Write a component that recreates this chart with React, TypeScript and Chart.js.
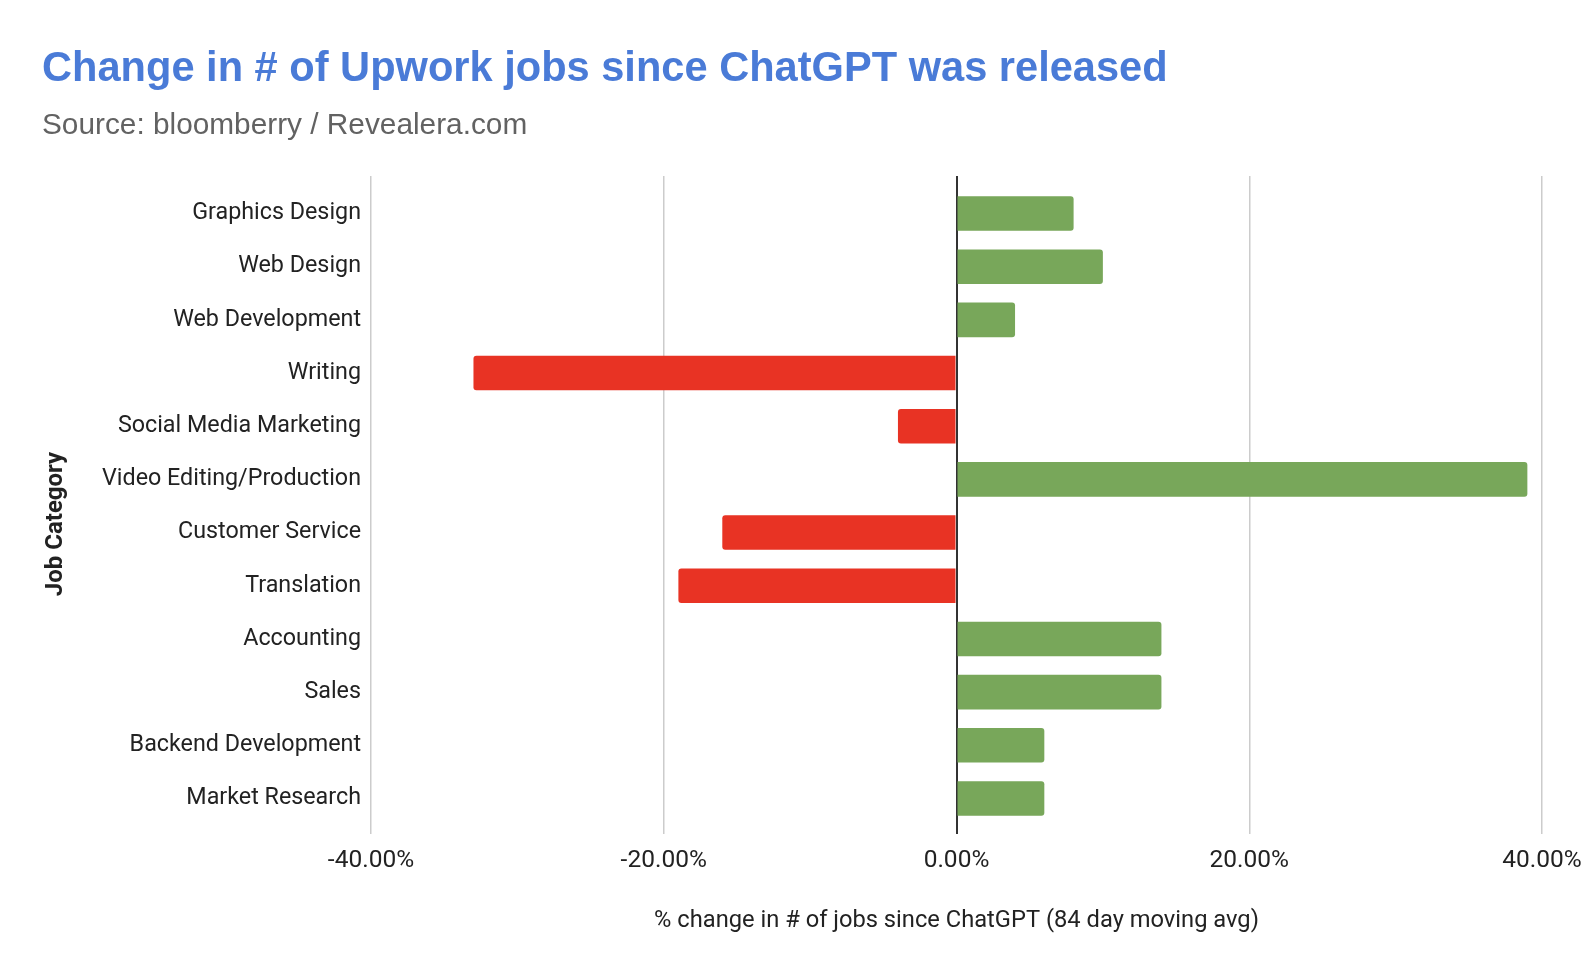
import { useEffect, useRef } from "react";
import { Chart, registerables, ChartConfiguration, Plugin } from "chart.js";

Chart.register(...registerables);

const Categories: string[] = [
  "Graphics Design",
  "Web Design",
  "Web Development",
  "Writing",
  "Social Media Marketing",
  "Video Editing/Production",
  "Customer Service",
  "Translation",
  "Accounting",
  "Sales",
  "Backend Development",
  "Market Research",
];

// % change since ChatGPT (84 day moving avg)
const Changes: number[] = [8, 10, 4, -33, -4, 39, -16, -19, 14, 14, 6, 6];

const XTicks: number[] = [-40, -20, 0, 20, 40];

const GREEN = "#78a75a";
const RED = "#e83324";

const yTitlePlugin: Plugin<"bar"> = {
  id: "yTitle",
  afterDraw(chart) {
    const ctx = chart.ctx;
    ctx.save();
    ctx.translate(56, 524);
    ctx.rotate(-Math.PI / 2);
    ctx.font = "bold 24px Roboto";
    ctx.fillStyle = "#222222";
    ctx.textAlign = "center";
    ctx.textBaseline = "middle";
    ctx.fillText("Job Category", 0, 0);
    ctx.restore();
  },
};

function App() {
  const chartRef = useRef<null | HTMLCanvasElement>(null);

  useEffect(() => {
    let chartInstance: null | Chart<"bar"> = null;
    if (chartRef.current) {
      const chartContext = chartRef.current.getContext("2d");
      if (chartContext) {
        Chart.defaults.font.family = "Roboto";
        const config: ChartConfiguration<"bar"> = {
          type: "bar",
          data: {
            labels: Categories,
            datasets: [
              {
                label: "% change",
                data: Changes,
                backgroundColor: Changes.map((v) => (v < 0 ? RED : GREEN)),
                borderRadius: 3,
                categoryPercentage: 1,
                barPercentage: 0.65,
              },
            ],
          },
          options: {
            indexAxis: "y",
            responsive: false,
            animation: false,
            layout: {
              padding: { top: 176, right: 44, bottom: 41, left: 0 },
            },
            plugins: {
              legend: { display: false },
              tooltip: { enabled: false },
            },
            scales: {
              x: {
                type: "linear",
                min: XTicks[0],
                max: XTicks[XTicks.length - 1],
                afterBuildTicks: (axis) => {
                  axis.ticks = XTicks.map((value) => ({ value }));
                },
                afterFit: (axis: any) => {
                  axis.height = 101;
                  // the end labels may run past the plot; don't shrink it for them
                  axis.paddingLeft = 0;
                  axis.paddingRight = 0;
                },
                border: { display: false },
                grid: {
                  drawTicks: false,
                  color: (ctx) => (ctx.tick && ctx.tick.value === 0 ? "#333333" : "#cccccc"),
                  lineWidth: (ctx) => (ctx.tick && ctx.tick.value === 0 ? 2 : 1.5),
                },
                ticks: {
                  padding: 12,
                  color: "#222222",
                  font: { size: 24.5 },
                  callback: (value) => `${Number(value).toFixed(2)}%`,
                },
                title: {
                  display: true,
                  text: "% change in # of jobs since ChatGPT (84 day moving avg)",
                  color: "#222222",
                  font: { size: 23.7 },
                  padding: { top: 0, bottom: 0 },
                },
              },
              y: {
                type: "category",
                afterBuildTicks: (axis: any) => {
                  // leave a little room above the first and below the last band
                  axis._startValue = -0.705;
                  axis._valueRange = Categories.length + 0.373;
                },
                afterFit: (axis) => {
                  axis.width = 371;
                },
                border: { display: false },
                grid: { display: false, drawTicks: false },
                ticks: {
                  padding: 10,
                  color: "#222222",
                  font: { size: 23.3 },
                },
              },
            },
          },
          plugins: [yTitlePlugin],
        };
        chartInstance = new Chart(chartContext, config);
      }
    }
    return () => {
      if (chartInstance) {
        chartInstance.destroy();
      }
    };
  }, []);

  return (
    <div
      style={{
        position: "fixed",
        left: 0,
        top: 0,
        width: 1586,
        height: 976,
        background: "#ffffff",
        overflow: "hidden",
      }}
    >
      <div
        style={{
          position: "absolute",
          left: 42,
          top: 46,
          font: "bold 41.6px 'Liberation Sans', Arial, sans-serif",
          lineHeight: "41.6px",
          color: "#4a7bd7",
          whiteSpace: "nowrap",
        }}
      >
        Change in # of Upwork jobs since ChatGPT was released
      </div>
      <div
        style={{
          position: "absolute",
          left: 42,
          top: 109,
          font: "29.8px 'Liberation Sans', Arial, sans-serif",
          lineHeight: "29.8px",
          color: "#626262",
          whiteSpace: "nowrap",
        }}
      >
        Source: bloomberry / Revealera.com
      </div>
      <canvas ref={chartRef} width={1586} height={976} style={{ display: "block" }} />
    </div>
  );
}

export default App;
